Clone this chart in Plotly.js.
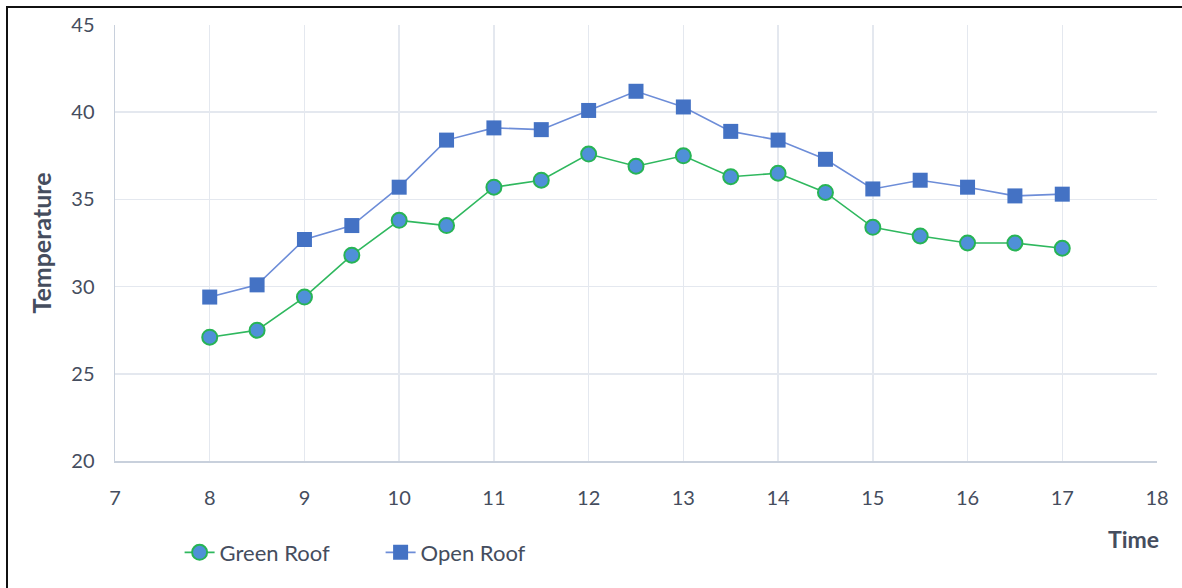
<!DOCTYPE html>
<html>
<head>
<meta charset="utf-8">
<script src="https://cdn.plot.ly/plotly-3.0.1.min.js"></script>
<style>
  html, body { margin: 0; padding: 0; background: #ffffff; }
  #chart { width: 1182px; height: 588px; }
  #frame {
    position: absolute; left: 6px; top: 6px; width: 1200px; height: 600px;
    border-left: 2px solid #111; border-top: 2px solid #111;
    pointer-events: none;
  }
</style>
</head>
<body>
<div id="chart"></div>
<div id="frame"></div>
<script>
// Hourly readings, 8:00 to 17:00 every half hour
const time = [8, 8.5, 9, 9.5, 10, 10.5, 11, 11.5, 12, 12.5, 13, 13.5, 14, 14.5, 15, 15.5, 16, 16.5, 17];
const greenRoof = [27.1, 27.5, 29.4, 31.8, 33.8, 33.5, 35.7, 36.1, 37.6, 36.9, 37.5, 36.3, 36.5, 35.4, 33.4, 32.9, 32.5, 32.5, 32.2];
const openRoof  = [29.4, 30.1, 32.7, 33.5, 35.7, 38.4, 39.1, 39.0, 40.1, 41.2, 40.3, 38.9, 38.4, 37.3, 35.6, 36.1, 35.7, 35.2, 35.3];
const seriesNames = ['Green Roof', 'Open Roof'];
const xTicks = [7, 8, 9, 10, 11, 12, 13, 14, 15, 16, 17, 18];
const yTicks = [20, 25, 30, 35, 40, 45];

const textColor = '#454d5e';
const fontFamily = 'Lato, "Open Sans", sans-serif';

const traces = [
  {
    x: time, y: greenRoof, name: seriesNames[0], type: 'scatter', mode: 'lines+markers',
    line: { color: '#2fb85e', width: 1.6 },
    marker: { symbol: 'circle', size: 15, color: '#4f90d8', line: { color: '#27b455', width: 2 } }
  },
  {
    x: time, y: openRoof, name: seriesNames[1], type: 'scatter', mode: 'lines+markers',
    line: { color: '#6d8dd8', width: 1.6 },
    marker: { symbol: 'square', size: 15, color: '#4472c4', line: { color: '#4472c4', width: 0 } }
  }
];

const layout = {
  width: 1182, height: 588,
  margin: { l: 115, r: 25, t: 25, b: 127 },
  paper_bgcolor: '#ffffff', plot_bgcolor: '#ffffff',
  font: { family: fontFamily, color: textColor, size: 20 },
  showlegend: true,
  legend: {
    orientation: 'h', x: 0.062, xanchor: 'left', y: -0.21, yanchor: 'middle',
    font: { size: 22, color: textColor }, itemwidth: 30, entrywidth: 156
  },
  xaxis: {
    range: [7, 18], tickvals: xTicks, ticktext: xTicks.map(String),
    showgrid: true, gridcolor: '#e4e8ef', gridwidth: 1.5,
    showline: true, linecolor: '#c8d0dc', linewidth: 1.5,
    zeroline: false, ticks: 'outside', ticklen: 18, tickcolor: 'rgba(0,0,0,0)',
    tickfont: { size: 20, color: textColor }
  },
  yaxis: {
    range: [20, 45], tickvals: yTicks, ticktext: yTicks.map(String),
    showgrid: true, gridcolor: '#e4e8ef', gridwidth: 1.5,
    showline: true, linecolor: '#c8d0dc', linewidth: 1.5,
    zeroline: false, ticks: 'outside', ticklen: 15, tickcolor: 'rgba(0,0,0,0)',
    tickfont: { size: 20, color: textColor },
    title: { text: '<b>Temperature</b>', font: { size: 25, color: textColor }, standoff: 12 }
  },
  annotations: [
    {
      text: '<b>Time</b>', xref: 'paper', yref: 'paper', x: 1, y: -0.178, xshift: 4,
      xanchor: 'right', yanchor: 'middle', showarrow: false,
      font: { size: 23, color: textColor }
    }
  ]
};

Plotly.newPlot('chart', traces, layout, { displayModeBar: false, staticPlot: true });
</script>
</body>
</html>
